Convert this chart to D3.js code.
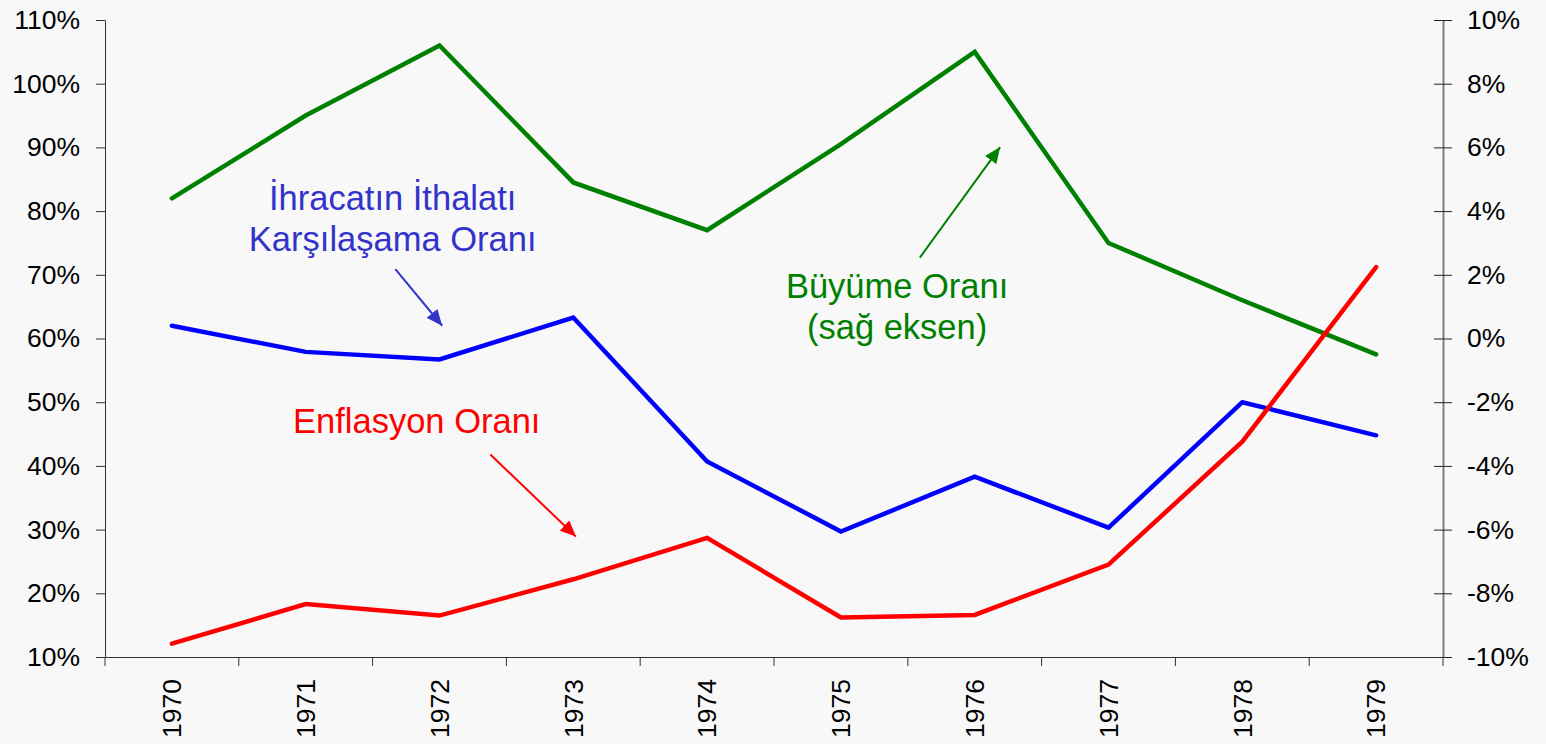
<html><head>
<meta charset="UTF-8">
<title>Enflasyon, Büyüme ve İhracatın İthalatı Karşılama Oranı 1970-1979</title>
<script src="https://d3js.org/d3.v7.min.js"></script>
<style>
    body {
        margin: 0;
        background: #f8f8f8;
        font-family: "Liberation Sans", Arial, sans-serif;
    }
    .axis text {
        font-size: 26.5px;
        fill: #000;
    }
    .line {
        fill: none;
        stroke-width: 4.5px;
        stroke-linejoin: miter;
        stroke-linecap: round;
    }
    .note {
        font-size: 34.5px;
        text-anchor: middle;
    }
</style>
</head>
<body>
<div id="chart"></div>
<script>
    // data
    const years = [1970, 1971, 1972, 1973, 1974, 1975, 1976, 1977, 1978, 1979];
    const ihracat = [0.620, 0.579, 0.567, 0.633, 0.407, 0.297, 0.383, 0.303, 0.500, 0.448];
    const enflasyon = [0.121, 0.183, 0.165, 0.222, 0.287, 0.162, 0.166, 0.245, 0.438, 0.712];
    const buyume = [0.044, 0.070, 0.092, 0.049, 0.034, 0.061, 0.090, 0.030, 0.012, -0.005];
    const leftTicks = [0.1, 0.2, 0.3, 0.4, 0.5, 0.6, 0.7, 0.8, 0.9, 1.0, 1.1];
    const rightTicks = [-0.10, -0.08, -0.06, -0.04, -0.02, 0, 0.02, 0.04, 0.06, 0.08, 0.10];

    const W = 1546, H = 744;
    const margin = { top: 20, right: 103, bottom: 87, left: 105 };

    const svg = d3.select("#chart").append("svg")
        .attr("width", W)
        .attr("height", H);

    const x = d3.scaleBand().domain(years).range([margin.left, W - margin.right]).padding(0);
    const yL = d3.scaleLinear().domain([0.1, 1.1]).range([H - margin.bottom, margin.top]);
    const yR = d3.scaleLinear().domain([-0.1, 0.1]).range([H - margin.bottom, margin.top]);
    const cx = d => x(d) + x.bandwidth() / 2;
    // fractional year -> pixel, for the notes
    const xYear = d3.scaleLinear().domain([1970, 1979]).range([cx(1970), cx(1979)]);
    const pct = v => d3.format(".0%")(v).replace("−", "-");

    // left axis
    svg.append("g")
        .attr("class", "axis")
        .attr("transform", `translate(${margin.left},0)`)
        .call(d3.axisLeft(yL).tickValues(leftTicks).tickFormat(pct)
            .tickSizeInner(9).tickSizeOuter(0).tickPadding(16))
        .call(g => g.select(".domain").attr("stroke", "#333"))
        .call(g => g.selectAll(".tick line").attr("stroke", "#333"));

    // right axis, ticks cross the line
    svg.append("g")
        .attr("class", "axis")
        .attr("transform", `translate(${W - margin.right},0)`)
        .call(d3.axisRight(yR).tickValues(rightTicks).tickFormat(pct)
            .tickSizeInner(9).tickSizeOuter(0).tickPadding(15))
        .call(g => g.select(".domain").attr("stroke", "#808080").attr("stroke-width", 2))
        .call(g => g.selectAll(".tick line").attr("x1", -9).attr("stroke", "#222"));

    // bottom axis
    const xAxis = svg.append("g")
        .attr("class", "axis")
        .attr("transform", `translate(0,${H - margin.bottom})`)
        .call(d3.axisBottom(x).tickSize(0).tickPadding(0))
        .call(g => g.select(".domain").attr("stroke", "#333"));
    xAxis.selectAll(".tick text")
        .attr("transform", "rotate(-90)")
        .attr("text-anchor", "end")
        .attr("x", -22)
        .attr("y", 0)
        .attr("dy", "0.35em");
    xAxis.selectAll(".edge")
        .data(years.map(d => x(d)).concat([x(1979) + x.bandwidth()]))
        .enter().append("line")
        .attr("x1", d => d).attr("x2", d => d)
        .attr("y1", 0).attr("y2", 9)
        .attr("stroke", "#333");

    // lines
    const lineL = d3.line().x((d, i) => cx(years[i])).y(d => yL(d));
    const lineR = d3.line().x((d, i) => cx(years[i])).y(d => yR(d));

    svg.append("path").attr("class", "line").attr("stroke", "#008000").attr("d", lineR(buyume));
    svg.append("path").attr("class", "line").attr("stroke", "#0000ff").attr("d", lineL(ihracat));
    svg.append("path").attr("class", "line").attr("stroke", "#ff0000").attr("d", lineL(enflasyon));

    // arrow markers
    const defs = svg.append("defs");
    function marker(id, color) {
        defs.append("marker")
            .attr("id", id)
            .attr("markerUnits", "userSpaceOnUse")
            .attr("viewBox", "0 0 16 14")
            .attr("markerWidth", 16)
            .attr("markerHeight", 14)
            .attr("refX", 16)
            .attr("refY", 7)
            .attr("orient", "auto")
            .append("path")
            .attr("d", "M0,0 L16,7 L0,14 Z")
            .attr("fill", color);
    }
    marker("arr-blue", "#3333cc");
    marker("arr-red", "#ff0000");
    marker("arr-green", "#008000");

    // notes: [year, value] pairs, scale picks the axis
    const notes = [
        { lines: ["İhracatın İthalatı", "Karşılaşama Oranı"], at: [1971.65, 0.801], color: "#3333cc", y: yL,
          arrow: [[1971.67, 0.709], [1972.02, 0.620]], id: "arr-blue" },
        { lines: ["Enflasyon Oranı"], at: [1971.83, 0.452], color: "#ff0000", y: yL,
          arrow: [[1972.38, 0.418], [1973.02, 0.289]], id: "arr-red" },
        { lines: ["Büyüme Oranı", "(sağ eksen)"], at: [1975.42, 0.0127], color: "#008000", y: yR,
          arrow: [[1975.59, 0.0254], [1976.19, 0.0601]], id: "arr-green" }
    ];

    notes.forEach(n => {
        const t = svg.append("text")
            .attr("class", "note")
            .attr("fill", n.color)
            .attr("x", xYear(n.at[0]))
            .attr("y", n.y(n.at[1]));
        n.lines.forEach((s, i) => {
            t.append("tspan")
                .attr("x", xYear(n.at[0]))
                .attr("dy", i === 0 ? 0 : 40.5)
                .text(s);
        });
        svg.append("line")
            .attr("x1", xYear(n.arrow[0][0])).attr("y1", n.y(n.arrow[0][1]))
            .attr("x2", xYear(n.arrow[1][0])).attr("y2", n.y(n.arrow[1][1]))
            .attr("stroke", n.color)
            .attr("stroke-width", 2)
            .attr("marker-end", `url(#${n.id})`);
    });
</script>
</body>
</html>
